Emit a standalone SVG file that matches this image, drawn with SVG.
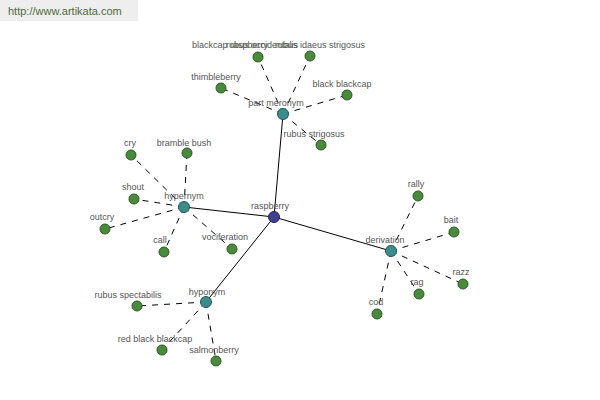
<svg xmlns="http://www.w3.org/2000/svg" width="600" height="400" viewBox="0 0 600 400">
<style>
.lbl{font-family:"Liberation Sans",Arial,sans-serif;font-size:9px;fill:#555;text-anchor:middle}
.solid{stroke:#000;stroke-width:1;fill:none}
.dash{stroke:#000;stroke-width:1;stroke-dasharray:6,6;fill:none}
.leaf{fill:#4a8a3c;stroke:#2c5a22;stroke-width:1}
.cat{fill:#3c8c8c;stroke:#235a5a;stroke-width:1}
.root{fill:#41418f;stroke:#25255a;stroke-width:1}
</style>
<rect width="600" height="400" fill="#fff"/>
<rect x="0" y="0" width="138" height="21" fill="#eeeeee"/>
<text x="8" y="15" font-family="'Liberation Sans',Arial,sans-serif" font-size="11" fill="#4f6a3f">http://www.artikata.com</text>
<g id="connectors">
<line class="solid" x1="274" y1="217" x2="283" y2="114"/>
<line class="solid" x1="274" y1="217" x2="184" y2="207"/>
<line class="solid" x1="274" y1="217" x2="206" y2="302"/>
<line class="solid" x1="274" y1="217" x2="391" y2="251"/>
<line class="dash" x1="283" y1="114" x2="258" y2="57"/>
<line class="dash" x1="283" y1="114" x2="310" y2="56"/>
<line class="dash" x1="283" y1="114" x2="221" y2="88"/>
<line class="dash" x1="283" y1="114" x2="347" y2="95"/>
<line class="dash" x1="283" y1="114" x2="321" y2="145"/>
<line class="dash" x1="184" y1="207" x2="131" y2="155"/>
<line class="dash" x1="184" y1="207" x2="187" y2="153"/>
<line class="dash" x1="184" y1="207" x2="134" y2="199"/>
<line class="dash" x1="184" y1="207" x2="105" y2="229"/>
<line class="dash" x1="184" y1="207" x2="164" y2="252"/>
<line class="dash" x1="184" y1="207" x2="232" y2="249"/>
<line class="dash" x1="206" y1="302" x2="137" y2="306"/>
<line class="dash" x1="206" y1="302" x2="162" y2="350"/>
<line class="dash" x1="206" y1="302" x2="216" y2="361"/>
<line class="dash" x1="391" y1="251" x2="418" y2="196"/>
<line class="dash" x1="391" y1="251" x2="454" y2="232"/>
<line class="dash" x1="391" y1="251" x2="463" y2="284"/>
<line class="dash" x1="391" y1="251" x2="419" y2="294"/>
<line class="dash" x1="391" y1="251" x2="377" y2="314"/>
</g>
<g id="n-blackcap"><circle class="leaf" cx="258" cy="57" r="5"/><text class="lbl" x="230" y="48">blackcap raspberry</text><text class="lbl" x="262" y="48">rubus occidentalis</text></g>
<g id="n-idaeus"><circle class="leaf" cx="310" cy="56" r="5"/><text class="lbl" x="320" y="48">rubus idaeus strigosus</text></g>
<g id="n-thimbleberry"><circle class="leaf" cx="221" cy="88" r="5"/><text class="lbl" x="216" y="80">thimbleberry</text></g>
<g id="n-blackblackcap"><circle class="leaf" cx="347" cy="95" r="5"/><text class="lbl" x="342" y="87">black blackcap</text></g>
<g id="n-rubusstrigosus"><circle class="leaf" cx="321" cy="145" r="5"/><text class="lbl" x="314" y="137">rubus strigosus</text></g>
<g id="n-cry"><circle class="leaf" cx="131" cy="155" r="5"/><text class="lbl" x="130" y="146">cry</text></g>
<g id="n-bramble"><circle class="leaf" cx="187" cy="153" r="5"/><text class="lbl" x="184" y="146">bramble bush</text></g>
<g id="n-shout"><circle class="leaf" cx="134" cy="199" r="5"/><text class="lbl" x="133" y="190">shout</text></g>
<g id="n-outcry"><circle class="leaf" cx="105" cy="229" r="5"/><text class="lbl" x="102" y="220">outcry</text></g>
<g id="n-call"><circle class="leaf" cx="164" cy="252" r="5"/><text class="lbl" x="160" y="243">call</text></g>
<g id="n-vociferation"><circle class="leaf" cx="232" cy="249" r="5"/><text class="lbl" x="225" y="240">vociferation</text></g>
<g id="n-spectabilis"><circle class="leaf" cx="137" cy="306" r="5"/><text class="lbl" x="128" y="298">rubus spectabilis</text></g>
<g id="n-redblack"><circle class="leaf" cx="162" cy="350" r="5"/><text class="lbl" x="155" y="342">red black blackcap</text></g>
<g id="n-salmonberry"><circle class="leaf" cx="216" cy="361" r="5"/><text class="lbl" x="214" y="353">salmonberry</text></g>
<g id="n-rally"><circle class="leaf" cx="418" cy="196" r="5"/><text class="lbl" x="416" y="187">rally</text></g>
<g id="n-bait"><circle class="leaf" cx="454" cy="232" r="5"/><text class="lbl" x="451" y="223">bait</text></g>
<g id="n-razz"><circle class="leaf" cx="463" cy="284" r="5"/><text class="lbl" x="461" y="275">razz</text></g>
<g id="n-rag"><circle class="leaf" cx="419" cy="294" r="5"/><text class="lbl" x="417" y="285">rag</text></g>
<g id="n-cod"><circle class="leaf" cx="377" cy="314" r="5"/><text class="lbl" x="376" y="305">cod</text></g>
<g id="n-partmeronym"><circle class="cat" cx="283" cy="114" r="5.5"/><text class="lbl" x="276" y="106">part meronym</text></g>
<g id="n-hypernym"><circle class="cat" cx="184" cy="207" r="5.5"/><text class="lbl" x="184" y="199">hypernym</text></g>
<g id="n-hyponym"><circle class="cat" cx="206" cy="302" r="5.5"/><text class="lbl" x="207" y="295">hyponym</text></g>
<g id="n-derivation"><circle class="cat" cx="391" cy="251" r="5.5"/><text class="lbl" x="385" y="243">derivation</text></g>
<g id="n-raspberry"><circle class="root" cx="274" cy="217" r="5.5"/><text class="lbl" x="270" y="209">raspberry</text></g>
</svg>
